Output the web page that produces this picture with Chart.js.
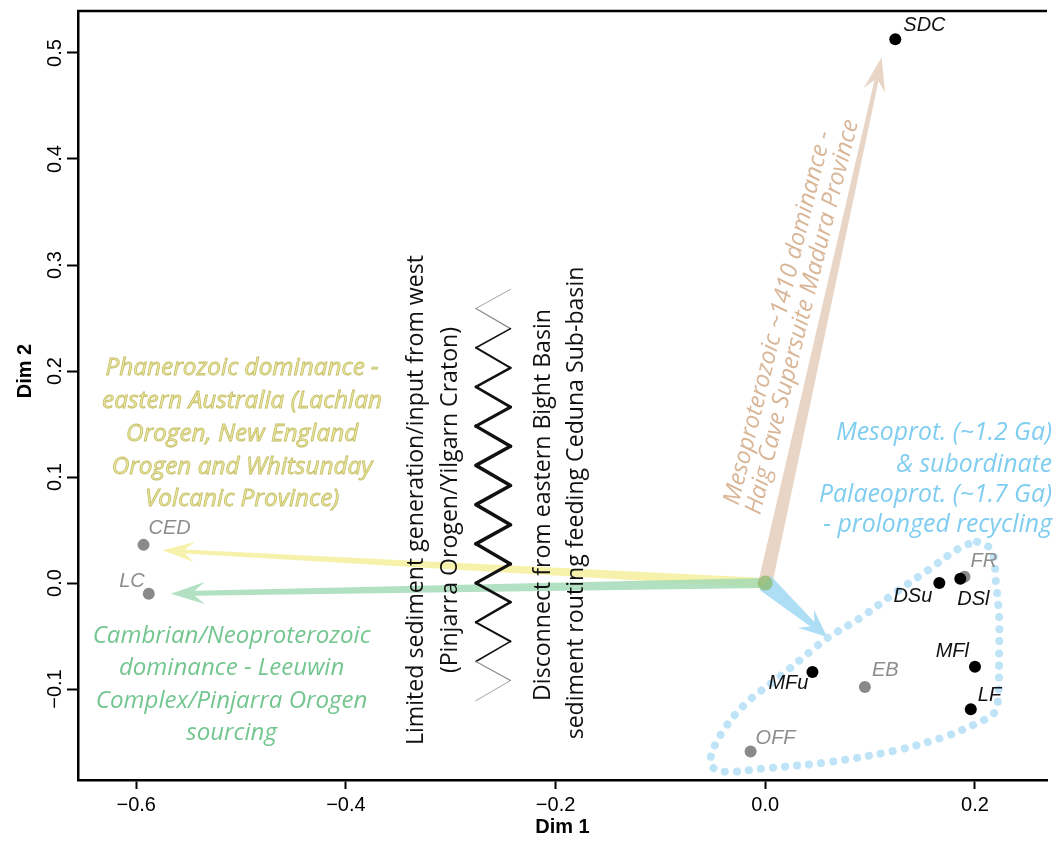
<!DOCTYPE html>
<html>
<head>
<meta charset="utf-8">
<script src="https://cdn.jsdelivr.net/npm/chart.js@4.4.1/dist/chart.umd.min.js"></script>
<style>
  html, body { margin: 0; padding: 0; background: #fff; }
  #wrap { width: 1053px; height: 843px; }
</style>
</head>
<body>
<div id="wrap"><canvas id="chart" width="1053" height="843"></canvas></div>
<script>
// MDS scores of each sample (Dim 1, Dim 2)
const names = ['SDC', 'CED', 'LC', 'FR', 'DSu', 'DSl', 'MFl', 'LF', 'MFu', 'EB', 'OFF'];
const dim1  = [0.124, -0.593, -0.588, 0.190, 0.166, 0.186, 0.200, 0.196, 0.045, 0.095, -0.014];
const dim2  = [0.513, 0.036, -0.010, 0.006, 0.000, 0.004, -0.079, -0.119, -0.084, -0.098, -0.159];
const isRef = [false, true, true, true, false, false, false, false, false, true, true];

// axis ticks
const xTicks = [-0.6, -0.4, -0.2, 0.0, 0.2];
const yTicks = [-0.1, 0.0, 0.1, 0.2, 0.3, 0.4, 0.5];

// outline round the eastern samples
const hullX = [0.202, 0.216, 0.220, 0.223, 0.223, 0.222, 0.218, 0.209, 0.171, 0.124, 0.060, -0.002, -0.035, -0.049, -0.052, -0.040, -0.018, 0.013, 0.045, 0.059, 0.092, 0.124, 0.155, 0.187, 0.202];
const hullY = [0.039, 0.031, 0.000, -0.032, -0.063, -0.110, -0.123, -0.129, -0.145, -0.158, -0.169, -0.175, -0.178, -0.175, -0.164, -0.139, -0.113, -0.089, -0.063, -0.052, -0.032, -0.009, 0.012, 0.034, 0.039];

// zigzag "barrier"
const zigX = [-0.243, -0.276, -0.243, -0.276, -0.243, -0.276, -0.243, -0.276, -0.243, -0.276, -0.243,
              -0.276, -0.243, -0.276, -0.243, -0.276, -0.243, -0.276, -0.243, -0.276, -0.243, -0.276];
const zigY = [0.277, 0.259, 0.240, 0.222, 0.203, 0.185, 0.166, 0.148, 0.129, 0.111, 0.092,
              0.074, 0.055, 0.037, 0.018, 0.000, -0.018, -0.037, -0.055, -0.074, -0.092, -0.111];
const zigWidth = [0.8, 1.2, 1.6, 2, 2.4, 2.8, 3.1, 3.4, 3.6, 3.6, 3.6, 3.6, 3.6, 3.4, 3.1, 2.8, 2.4, 2, 1.6, 1.2, 0.8];

// arrow tips (all arrows start at the origin)
const arrowNames = ['Phanerozoic', 'Cambrian', 'Mesoproterozoic', 'Mesoprot'];
const arrowX = [-0.575, -0.567, 0.111, 0.059];
const arrowY = [0.031, -0.010, 0.496, -0.051];

// annotation text lines
const yellowLines = ['Phanerozoic dominance -', 'eastern Australia (Lachlan', 'Orogen, New England', 'Orogen and Whitsunday', 'Volcanic Province)'];
const greenLines = ['Cambrian/Neoproterozoic', 'dominance - Leeuwin', 'Complex/Pinjarra Orogen', 'sourcing'];
const blueLines = ['Mesoprot. (~1.2 Ga)', '& subordinate', 'Palaeoprot. (~1.7 Ga)', '- prolonged recycling'];
const tanLines = ['Mesoproterozoic ~1410 dominance -', 'Haig Cave Supersuite Madura Province'];
const blackLines = ['Limited sediment generation/input from west', '(Pinjarra Orogen/Yilgarn Craton)',
                    'Disconnect from eastern Bight Basin', 'sediment routing feeding Ceduna Sub-basin'];

const SANS = "'Open Sans', 'Noto Sans', sans-serif";
const ARIAL = "'Liberation Sans', Arial, sans-serif";
const NARROW = "'Liberation Sans Narrow', 'Liberation Sans', sans-serif";

// where each point label sits relative to its point: [dx, dy, align]
const labelPlace = {
  SDC: [8, -14, 'left'], CED: [5, -16, 'left'], LC: [-4, -12, 'right'], FR: [6, -15, 'left'],
  DSu: [-7, 13, 'right'], DSl: [-3, 21, 'left'], MFl: [-6, -15, 'right'], LF: [7, -14, 'left'],
  MFu: [-4, 11, 'right'], EB: [7, -16, 'left'], OFF: [5, -13, 'left']
};

const arrowStyle = [
  { color: '#f6f1a2', alpha: 0.9, w0: 5, w1: 2, head: 32, headW: 10 },
  { color: '#9fd8b4', alpha: 0.8, w0: 5, w1: 2.5, head: 34, headW: 11 },
  { color: '#e7d3c2', alpha: 0.95, w0: 7, w1: 2, head: 34, headW: 11 },
  { color: '#a9dcf4', alpha: 0.95, w0: 9, w1: 3, head: 28, headW: 12 }
];

// text blocks: each line position in data units
const textBlocks = [
  { lines: yellowLines, xs: [-0.499, -0.499, -0.499, -0.499, -0.499], ys: [0.2028, 0.1717, 0.1406, 0.1094, 0.0792],
    rot: 0, align: 'center', italic: true, color: '#ece8a0', stroke: '#c4be68', ref: 1, refW: 280 },
  { lines: greenLines, xs: [-0.509, -0.509, -0.509, -0.509], ys: [-0.0500, -0.0802, -0.1113, -0.1415],
    rot: 0, align: 'center', italic: true, color: '#74c690', ref: 0, refW: 278 },
  { lines: blueLines, xs: [0.2735, 0.2735, 0.2735, 0.2735], ys: [0.1415, 0.1113, 0.0830, 0.0547],
    rot: 0, align: 'right', italic: true, color: '#7fcdf0', ref: 2, refW: 233 },
  { lines: tanLines, xs: [0.0123, 0.0355], ys: [0.2500, 0.2509],
    rot: -76, align: 'center', italic: true, color: '#d9b697', ref: 1, refW: 406 },
  { lines: blackLines, xs: [-0.3332, -0.3000, -0.2118, -0.1806], ys: [0.0783, 0.0783, 0.0736, 0.0755],
    rot: -90, align: 'center', italic: false, color: '#111', ref: 0, refW: 490 }
];

function fmt(v) {
  if (Math.abs(v) < 1e-9) return '0.0';
  return (v < 0 ? '\u2212' : '') + Math.abs(v).toFixed(1);
}

function drawArrow(ctx, xs, ys, tipX, tipY, a) {
  const x0 = xs.getPixelForValue(0), y0 = ys.getPixelForValue(0);
  const x1 = xs.getPixelForValue(tipX), y1 = ys.getPixelForValue(tipY);
  const len = Math.hypot(x1 - x0, y1 - y0);
  const ux = (x1 - x0) / len, uy = (y1 - y0) / len;
  const nx = -uy, ny = ux;
  const sx = x1 - ux * a.head * 0.7, sy = y1 - uy * a.head * 0.7;
  const bx = x1 - ux * a.head, by = y1 - uy * a.head;
  ctx.save();
  ctx.globalAlpha = a.alpha;
  ctx.fillStyle = a.color;
  ctx.beginPath();
  ctx.moveTo(x0 + nx * a.w0, y0 + ny * a.w0);
  ctx.lineTo(sx + nx * a.w1, sy + ny * a.w1);
  ctx.lineTo(bx + nx * a.headW, by + ny * a.headW);
  ctx.lineTo(x1, y1);
  ctx.lineTo(bx - nx * a.headW, by - ny * a.headW);
  ctx.lineTo(sx - nx * a.w1, sy - ny * a.w1);
  ctx.lineTo(x0 - nx * a.w0, y0 - ny * a.w0);
  ctx.closePath();
  ctx.fill();
  ctx.restore();
}

const decorations = {
  id: 'decorations',
  beforeDatasetsDraw(chart) {
    const ctx = chart.ctx, xs = chart.scales.x, ys = chart.scales.y;
    for (let i = 0; i < arrowNames.length; i++) {
      drawArrow(ctx, xs, ys, arrowX[i], arrowY[i], arrowStyle[i]);
    }
    // origin blob where the arrows meet
    ctx.save();
    ctx.fillStyle = 'rgba(140, 185, 110, 0.75)';
    ctx.beginPath();
    ctx.arc(xs.getPixelForValue(0), ys.getPixelForValue(0), 7.5, 0, Math.PI * 2);
    ctx.fill();
    ctx.restore();
  },
  afterDatasetsDraw(chart) {
    const ctx = chart.ctx, xs = chart.scales.x, ys = chart.scales.y, area = chart.chartArea;
    ctx.save();

    // top of the box
    ctx.strokeStyle = '#000';
    ctx.lineWidth = 2.5;
    ctx.beginPath();
    ctx.moveTo(area.left - 1, area.top);
    ctx.lineTo(area.right, area.top);
    ctx.stroke();

    // y tick labels, turned like R does
    ctx.fillStyle = '#000';
    ctx.font = '20px ' + NARROW;
    ctx.textAlign = 'center';
    ctx.textBaseline = 'middle';
    yTicks.forEach(v => {
      ctx.save();
      ctx.translate(55, ys.getPixelForValue(v));
      ctx.rotate(-Math.PI / 2);
      ctx.fillText(fmt(v), 0, 0);
      ctx.restore();
    });

    // y axis title
    ctx.save();
    ctx.font = 'bold 20px ' + NARROW;
    ctx.translate(25, 371);
    ctx.rotate(-Math.PI / 2);
    ctx.fillText('Dim 2', 0, 0);
    ctx.restore();

    // point labels
    ctx.font = 'italic 20px ' + ARIAL;
    names.forEach((n, i) => {
      const p = labelPlace[n];
      ctx.fillStyle = isRef[i] ? '#8d8d8d' : '#111';
      ctx.textAlign = p[2];
      ctx.fillText(n, xs.getPixelForValue(dim1[i]) + p[0], ys.getPixelForValue(dim2[i]) + p[1]);
    });

    // annotation text blocks
    textBlocks.forEach(b => {
      const style = b.italic ? 'italic ' : '';
      ctx.font = style + '20px ' + SANS;
      const size = 20 * b.refW / ctx.measureText(b.lines[b.ref]).width;
      ctx.font = style + size.toFixed(2) + 'px ' + SANS;
      ctx.textAlign = b.align;
      ctx.textBaseline = 'middle';
      b.lines.forEach((t, i) => {
        ctx.save();
        ctx.translate(xs.getPixelForValue(b.xs[i]), ys.getPixelForValue(b.ys[i]));
        ctx.rotate(b.rot * Math.PI / 180);
        ctx.fillStyle = b.color;
        ctx.fillText(t, 0, 0);
        if (b.stroke) {
          ctx.strokeStyle = b.stroke;
          ctx.lineWidth = 0.8;
          ctx.strokeText(t, 0, 0);
        }
        ctx.restore();
      });
    });

    ctx.restore();
  }
};

const ctx = document.getElementById('chart').getContext('2d');
new Chart(ctx, {
  type: 'scatter',
  data: {
    datasets: [
      {
        label: 'samples',
        data: names.map((n, i) => ({ x: dim1[i], y: dim2[i] })).filter((p, i) => !isRef[i]),
        pointRadius: 6, pointBackgroundColor: '#000', pointBorderWidth: 0, showLine: false
      },
      {
        label: 'reference',
        data: names.map((n, i) => ({ x: dim1[i], y: dim2[i] })).filter((p, i) => isRef[i]),
        pointRadius: 6, pointBackgroundColor: '#8a8a8a', pointBorderWidth: 0, showLine: false
      },
      {
        label: 'zigzag',
        data: zigX.map((x, i) => ({ x: x, y: zigY[i] })),
        showLine: true, pointRadius: 0, borderColor: '#111', borderWidth: 3,
        borderCapStyle: 'round', borderJoinStyle: 'round', tension: 0,
        segment: {
          borderWidth: c => zigWidth[c.p0DataIndex],
          borderColor: c => zigWidth[c.p0DataIndex] < 1.5 ? '#8a8a8a' : '#111'
        }
      },
      {
        label: 'outline',
        data: hullX.map((x, i) => ({ x: x, y: hullY[i] })),
        showLine: true, pointRadius: 0, borderColor: '#bfe4f7', borderWidth: 8,
        borderDash: [0.1, 12], borderCapStyle: 'round', tension: 0.35, fill: false
      }
    ]
  },
  options: {
    responsive: false,
    animation: false,
    devicePixelRatio: 1,
    layout: { padding: { top: 11, right: 0, left: 0, bottom: 0 } },
    plugins: { legend: { display: false }, tooltip: { enabled: false } },
    scales: {
      x: {
        type: 'linear', min: -0.6555, max: 0.2687,
        afterFit: s => { s.height = 63; },
        ticks: {
          stepSize: 0.2, includeBounds: false, color: '#000', padding: 4,
          font: { family: NARROW, size: 20 },
          callback: v => fmt(v), maxRotation: 0
        },
        grid: { drawOnChartArea: false, drawTicks: true, tickLength: 9, tickWidth: 2, tickColor: '#000' },
        border: { display: true, color: '#000', width: 2.5 },
        title: { display: true, text: 'Dim 1', color: '#000', font: { family: NARROW, size: 20, weight: 'bold' }, padding: { top: 0 } }
      },
      y: {
        type: 'linear', min: -0.1858, max: 0.5396,
        afterFit: s => { s.width = 78; },
        ticks: { stepSize: 0.1, includeBounds: false, display: false },
        grid: { drawOnChartArea: false, drawTicks: true, tickLength: 11, tickWidth: 2, tickColor: '#000' },
        border: { display: true, color: '#000', width: 2.5 }
      }
    }
  },
  plugins: [decorations]
});
</script>
</body>
</html>
